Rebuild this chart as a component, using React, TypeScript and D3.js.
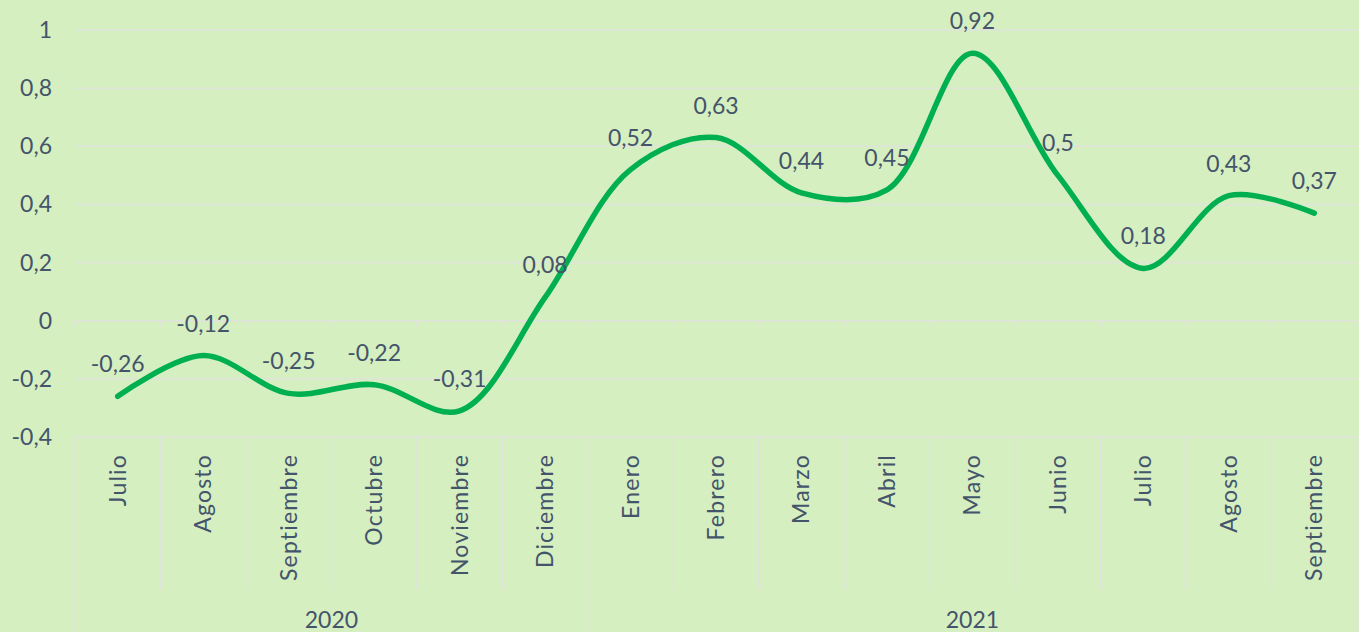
import React from "react";
import * as d3 from "d3";

const months = ["Julio","Agosto","Septiembre","Octubre","Noviembre","Diciembre","Enero","Febrero","Marzo","Abril","Mayo","Junio","Julio","Agosto","Septiembre"];
const values = [-0.26,-0.12,-0.25,-0.22,-0.31,0.08,0.52,0.63,0.44,0.45,0.92,0.5,0.18,0.43,0.37];
const years = [{ label: "2020", from: 0, to: 6 }, { label: "2021", from: 6, to: 15 }];
const yTicks = [-0.4,-0.2,0,0.2,0.4,0.6,0.8,1];

const W = 1359, H = 632;
const left = 75, right = 1357, top = 30, bottom = 437;
const BG = "#d5efc1";
const GRID = "#dfe3dc";
const TXT = "#44546a";
const FONT = "Lato, 'Open Sans', sans-serif";
const FS = 23;

const fmt = (v: number) => String(v).replace(".", ",");

export default function App() {
  const idx = months.map((_, i) => i);
  const x = d3.scaleBand<number>().domain(idx).range([left, right]).padding(0);
  const y = d3.scaleLinear().domain([-0.4, 1]).range([bottom, top]);
  const bw = x.bandwidth();
  const cx = (i: number) => (x(i) as number) + bw / 2;
  const line = d3.line<number>().x((_, i) => cx(i)).y(d => y(d)).curve(d3.curveCatmullRom.alpha(0.5));
  const path = line(values) || "";
  const boundaries = d3.range(months.length + 1).map(i => left + i * bw);
  const yearBounds = [0, 6, 15];

  return (
    <svg width={W} height={H} style={{ position: "absolute", left: 0, top: 0, background: BG }}>
      <rect x={0} y={0} width={W} height={H} fill={BG} />
      {yTicks.map(t => (
        <g key={t}>
          <line x1={left} x2={right} y1={y(t)} y2={y(t)} stroke={GRID} strokeWidth={1.5} />
          <text x={52} y={y(t)} dy="0.35em" textAnchor="end" fontFamily={FONT} fontSize={FS} fill={TXT}>{fmt(t)}</text>
        </g>
      ))}
      {boundaries.map((b, i) => {
        const full = yearBounds.includes(i);
        return (
          <g key={"b" + i}>
            <line x1={b} x2={b} y1={y(0)} y2={y(0) + 6} stroke={GRID} strokeWidth={1.5} />
            <line x1={b} x2={b} y1={bottom} y2={full ? H : 590} stroke={GRID} strokeWidth={1.5} />
          </g>
        );
      })}
      {months.map((m, i) => (
        <text key={"m" + i} transform={`translate(${cx(i) + 8},${454}) rotate(-90)`} textAnchor="end" fontFamily={FONT} fontSize={FS} letterSpacing={1.2} fill={TXT}>{m}</text>
      ))}
      {years.map(yr => (
        <text key={yr.label} x={(left + yr.from * bw + left + yr.to * bw) / 2} y={628} textAnchor="middle" fontFamily={FONT} fontSize={FS} fill={TXT}>{yr.label}</text>
      ))}
      <path d={path} fill="none" stroke="#00b050" strokeWidth={5.5} strokeLinecap="round" strokeLinejoin="round" />
      {values.map((v, i) => (
        <text key={"v" + i} x={cx(i)} y={y(v) - 24} textAnchor="middle" fontFamily={FONT} fontSize={FS} fill={TXT}>{fmt(v)}</text>
      ))}
    </svg>
  );
}
